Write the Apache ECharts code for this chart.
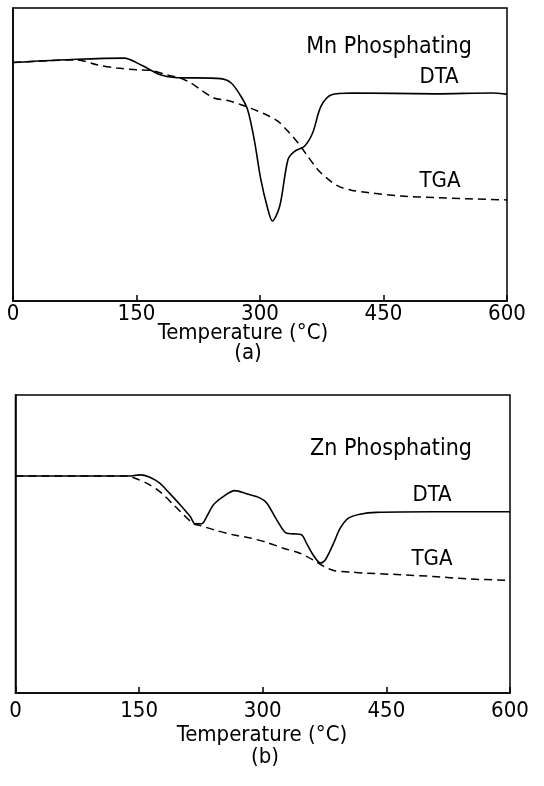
<!DOCTYPE html>
<html><head><meta charset="utf-8">
<script src="https://cdn.jsdelivr.net/npm/echarts@6/dist/echarts.min.js"></script>
<style>html,body{margin:0;padding:0;background:#fff}#c{width:544px;height:786px}</style>
</head><body><div id="c"></div>
<script>
// x tick labels (Temperature, °C)
const xTicks = [0, 150, 300, 450, 600];

// (a) Mn Phosphating  [temperature °C, signal (arbitrary units, 0-100)]
const mnDTA = [
  [0,81.4],[78,82.5],[135,82.9],[155,80.6],[179,77.2],[196,76.3],[252,75.9],[265,74.4],
  [277,69.8],[285,65.3],[293,55.1],[301,41.5],[309,31.9],[315,27.3],[324,32.4],[334,48.3],
  [342,51.1],[354,52.8],[364,57.4],[374,66.4],[387,70.4],[411,71.0],[513,70.7],[582,71.0],[600,70.6]
];
const mnTGA = [
  [0,81.4],[78,82.3],[102,80.6],[126,79.5],[151,78.9],[167,78.7],[187,77.2],[204,76.0],
  [216,74.4],[228,72.1],[244,69.3],[261,68.4],[277,67.0],[293,65.3],[309,63.4],[322,61.3],
  [334,57.9],[346,54.0],[358,49.4],[370,44.9],[383,41.5],[395,39.2],[411,37.8],[431,37.0],
  [472,35.8],[513,35.3],[553,34.9],[600,34.5]
];

// (b) Zn Phosphating
const znDTA = [
  [0,72.8],[137,72.8],[151,73.2],[163,72.4],[175,70.4],[187,67.0],[200,63.1],[212,59.2],
  [218,56.8],[226,56.8],[232,59.2],[240,63.1],[252,65.9],[266,67.9],[281,66.8],[297,65.4],
  [305,63.7],[317,58.1],[329,53.6],[337,53.4],[347,53.1],[353,50.3],[361,46.4],[370,43.6],
  [376,44.7],[386,50.3],[394,55.3],[404,58.7],[418,60.0],[438,60.6],[507,60.8],[576,60.8],[600,60.8]
];
const znTGA = [
  [0,72.8],[137,72.8],[143,72.3],[159,70.4],[175,67.6],[192,63.1],[204,59.8],[216,56.8],
  [224,56.2],[244,54.5],[264,53.1],[285,52.0],[305,50.5],[325,48.6],[345,46.9],[361,44.7],
  [374,42.5],[386,41.1],[406,40.6],[426,40.2],[467,39.7],[507,39.1],[547,38.3],[600,37.8]
];

const FONT = '"Liberation Sans Narrow","DejaVu Sans Condensed","Liberation Sans",sans-serif';
const chart = echarts.init(document.getElementById('c'), null, {renderer:'canvas'});

function xAx(idx, margin){
  return {
    type:'value', gridIndex:idx, min:xTicks[0], max:xTicks[xTicks.length-1], interval:150,
    axisLine:{show:true, onZero:false, lineStyle:{color:'#000', width:1.5}},
    axisTick:{show:true, inside:true, length:6, lineStyle:{color:'#000', width:1.5}},
    splitLine:{show:false},
    axisLabel:{color:'#000', fontSize:22, fontFamily:FONT, margin:margin,
      formatter:v => xTicks.includes(v) ? String(v) : ''}
  };
}
function yAx(idx){
  return {
    type:'value', gridIndex:idx, min:0, max:100,
    axisLine:{show:true, lineStyle:{color:'#000', width:1.5}},
    axisTick:{show:false}, axisLabel:{show:false}, splitLine:{show:false}
  };
}
function solid(data, i){ return {type:'line', xAxisIndex:i, yAxisIndex:i, data, showSymbol:false, smooth:0.3,
  lineStyle:{color:'#000', width:1.6}, z:3}; }
function dashed(data, i){ return {type:'line', xAxisIndex:i, yAxisIndex:i, data, showSymbol:false, smooth:0.3,
  lineStyle:{color:'#000', width:1.5, type:[8,5]}, z:2}; }

function txt(x, y, s, size){
  return {type:'text', x, y, style:{text:s, fill:'#000', font:(size||22)+'px '+FONT, textAlign:'center', textVerticalAlign:'middle'}};
}

chart.setOption({
  animation:false,
  backgroundColor:'#fff',
  grid:[
    {left:13, right:37, top:8, height:293, show:true, borderColor:'#000', borderWidth:1.5, backgroundColor:'transparent'},
    {left:15.5, right:34, top:395, height:298, show:true, borderColor:'#000', borderWidth:1.5, backgroundColor:'transparent'}
  ],
  xAxis:[xAx(0, 2), xAx(1, 7)],
  yAxis:[yAx(0), yAx(1)],
  series:[solid(mnDTA,0), dashed(mnTGA,0), solid(znDTA,1), dashed(znTGA,1)],
  graphic:[
    txt(389, 47, 'Mn Phosphating', 23),
    txt(439, 77, 'DTA'),
    txt(440, 181, 'TGA'),
    txt(243, 333, 'Temperature (°C)'),
    txt(248, 353, '(a)'),
    txt(391, 449, 'Zn Phosphating', 23),
    txt(432, 495, 'DTA'),
    txt(432, 559, 'TGA'),
    txt(262, 735, 'Temperature (°C)'),
    txt(265, 757, '(b)')
  ]
});
</script></body></html>
